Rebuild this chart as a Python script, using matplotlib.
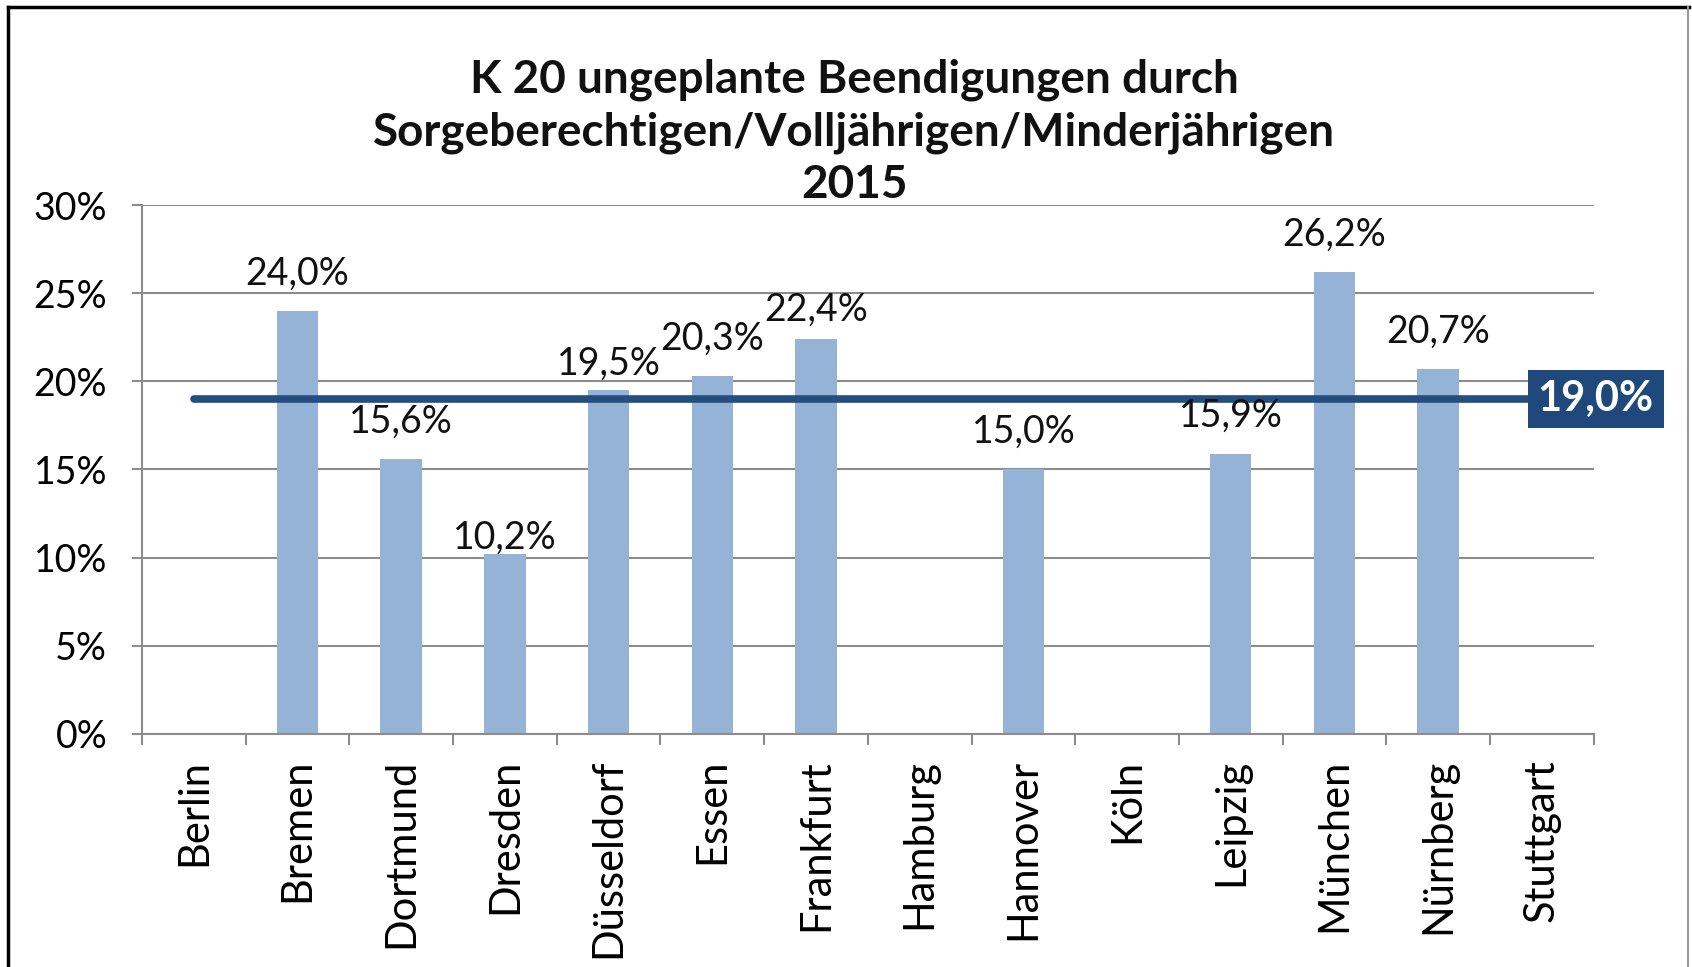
import matplotlib.pyplot as plt
from matplotlib.lines import Line2D

plt.rcParams['font.family'] = ['Lato', 'DejaVu Sans']

cities = ["Berlin", "Bremen", "Dortmund", "Dresden", "Düsseldorf", "Essen",
          "Frankfurt", "Hamburg", "Hannover", "Köln", "Leipzig", "München",
          "Nürnberg", "Stuttgart"]
# None = no value for that city
values = [None, 24.0, 15.6, 10.2, 19.5, 20.3, 22.4, None, 15.0, None,
          15.9, 26.2, 20.7, None]
average = 19.0
yticks = [0, 5, 10, 15, 20, 25, 30]

title = ("K 20 ungeplante Beendigungen durch\n"
         "Sorgeberechtigen/Volljährigen/Minderjährigen\n2015")

# label offsets above bar top (points), some labels sit lower in the original
label_off = {3: -1, 4: 6, 6: 8}

bar_color = "#95B3D7"
line_color = "#254E80"
grid_color = "#8C8C8C"

fig = plt.figure(figsize=(16.92, 9.67), dpi=100)
ax = fig.add_axes([0.0839, 0.241, 0.858, 0.547])

xs = list(range(len(cities)))
bx = [x for x, v in zip(xs, values) if v is not None]
bv = [v for v in values if v is not None]
ax.bar(bx, bv, width=0.4, color=bar_color, zorder=2)

for i, v in zip(bx, bv):
    ax.annotate(f"{v:.1f}%".replace(".", ","), (i, v),
                xytext=(0, label_off.get(i, 14)), textcoords="offset points",
                ha="center", va="bottom", fontsize=27, color="#111111", zorder=4)

# average line with label box
ax.plot([0, 13.3], [average, average], color=line_color, lw=5.5,
        solid_capstyle="round", zorder=3, clip_on=False)
ax.text(13.52, average, f"{average:.1f}%".replace(".", ","), ha="center",
        va="center", fontsize=30, fontweight="bold", color="white", zorder=5,
        clip_on=False,
        bbox=dict(boxstyle="square,pad=0.24", fc="#1F497D", ec="none"))

ax.set_xlim(-0.5, len(cities) - 0.5)
ax.set_ylim(0, 30)
ax.set_yticks(yticks)
ax.set_yticklabels([f"{t}%" for t in yticks], fontsize=27)
ax.yaxis.grid(True, color=grid_color, lw=1.5, zorder=0)
ax.set_axisbelow(True)

ax.set_xticks(xs)
ax.set_xticklabels(cities, rotation=90, fontsize=30, va="top")
ax.set_xticks([x - 0.5 for x in xs] + [len(cities) - 0.5], minor=True)
ax.tick_params(axis="x", which="major", length=0, pad=18)
ax.tick_params(axis="x", which="minor", length=8, width=1.5, color=grid_color)
ax.tick_params(axis="y", length=7, width=1.5, color=grid_color, pad=18)

for s in ["top", "right"]:
    ax.spines[s].set_visible(False)
for s in ["left", "bottom"]:
    ax.spines[s].set_color(grid_color)
    ax.spines[s].set_linewidth(1.5)

fig.text(0.505, 0.863, title, ha="center", va="center", fontsize=33,
         fontweight="bold", linespacing=1.3, color="#111111")

# outer frame
fig.add_artist(Line2D([0.0045, 0.0045], [0, 0.993], color="black", lw=2.5))
fig.add_artist(Line2D([0.0045, 0.998], [0.993, 0.993], color="black", lw=2.5))
fig.add_artist(Line2D([0.9975, 0.9975], [0, 0.993], color="#999999", lw=1.5))

fig.savefig("out.png", dpi=100)
